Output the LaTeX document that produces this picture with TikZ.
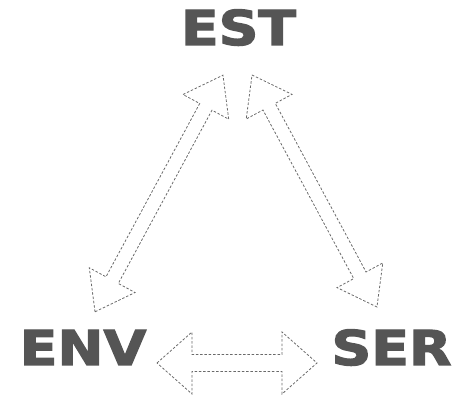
\documentclass[tikz,border=0pt]{standalone}
\usepackage{fontspec}
\newfontfamily\labelfont{DejaVu Sans}[BoldFeatures={FakeBold=2.5}]
\definecolor{labelgray}{HTML}{555555}
\definecolor{linegray}{HTML}{6A6A6A}
\tikzset{
  lbl/.style={inner sep=0pt, anchor=base, text=labelgray,
    font=\labelfont\bfseries\fontsize{48}{48}\selectfont},
  hollow/.style={draw=linegray, line width=0.8pt, dash pattern=on 2.5pt off 1.8pt, line join=miter}
}
% mid x, mid y, angle, half length, shaft half width, head half width, head length
\newcommand{\hollowdarrow}[7]{%
  \begin{scope}[shift={(#1,#2)}, rotate=#3]
    \draw[hollow] (-#4,0) -- (-#4+#7,#6) -- (-#4+#7,#5) -- (#4-#7,#5) -- (#4-#7,#6)
      -- (#4,0) -- (#4-#7,-#6) -- (#4-#7,-#5) -- (-#4+#7,-#5) -- (-#4+#7,-#6) -- cycle;
  \end{scope}}
\begin{document}
\begin{tikzpicture}[x=1pt,y=1pt]
\useasboundingbox (0,0) rectangle (453,411);
\node[lbl] (est) at (238.5,366) {\scalebox{1.15}[1]{EST}};
\node[lbl] (env) at (83,46) {\scalebox{1.15}[1]{ENV}};
\node[lbl] (ser) at (391.5,46) {\scalebox{1.15}[1]{SER}};
% EST <-> ENV
\hollowdarrow{159}{217.5}{61.6}{134.5}{7}{26}{36}
% EST <-> SER
\hollowdarrow{314.5}{220}{-61.7}{131.75}{7}{26}{36}
% ENV <-> SER
\hollowdarrow{237}{48}{0}{80}{8.5}{31}{35}
\end{tikzpicture}
\end{document}
